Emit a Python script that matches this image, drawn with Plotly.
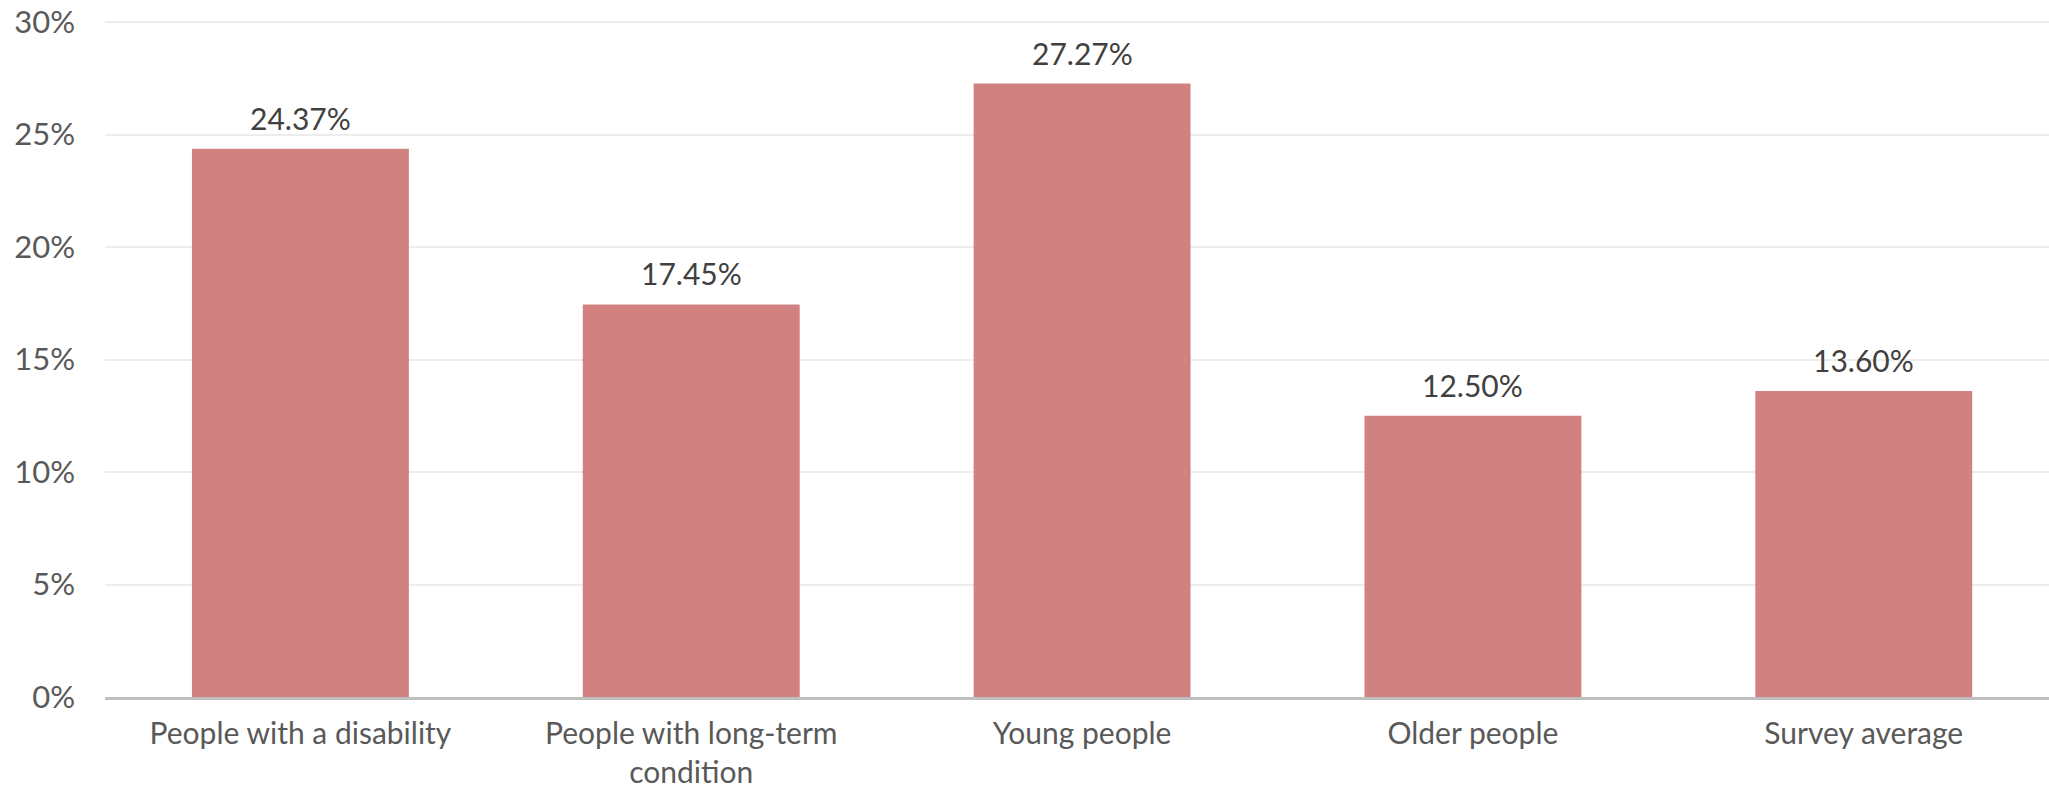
import plotly.graph_objects as go

categories = ["People with a disability", "People with long-term<br>condition",
              "Young people", "Older people", "Survey average"]
values = [0.2437, 0.1745, 0.2727, 0.1250, 0.1360]
value_labels = ["24.37%", "17.45%", "27.27%", "12.50%", "13.60%"]
y_ticks = [0, 0.05, 0.10, 0.15, 0.20, 0.25, 0.30]
y_tick_labels = ["0%", "5%", "10%", "15%", "20%", "25%", "30%"]

FONT = "Lato, Noto Sans, sans-serif"

fig = go.Figure(go.Bar(
    x=categories, y=values,
    marker=dict(color="#D18280", line=dict(width=0)),
    hoverinfo="skip",
))

for c, v, t in zip(categories, values, value_labels):
    fig.add_annotation(x=c, y=v, text=t, showarrow=False, yanchor="bottom",
                       yshift=11, font=dict(family=FONT, size=30, color="#404040"))

fig.update_layout(
    width=2049, height=791,
    margin=dict(l=105, r=0, t=21, b=94),
    paper_bgcolor="white", plot_bgcolor="white",
    bargap=0.445,
    showlegend=False,
    font=dict(family=FONT, size=31, color="#595959"),
)
fig.update_xaxes(
    range=[-0.5, 4.474], automargin=False,
    showline=True, linecolor="#BFBFBF", linewidth=2.5,
    showgrid=False, ticks="", ticklabelstandoff=8,
    ticklabeloverflow="allow",
    tickfont=dict(family=FONT, size=30, color="#595959"),
)
fig.update_yaxes(
    range=[0, 0.3005], automargin=False,
    tickvals=y_ticks, ticktext=y_tick_labels,
    showgrid=True, gridcolor="#EDEDED", gridwidth=1.5,
    zeroline=False, showline=False, ticks="",
    ticklabelstandoff=29, ticklabeloverflow="allow",
    tickfont=dict(family=FONT, size=31, color="#595959"),
)

fig.write_html("out.html",
               config={"displayModeBar": False},
               post_script="document.body.style.margin='0';document.body.style.overflow='hidden';")
